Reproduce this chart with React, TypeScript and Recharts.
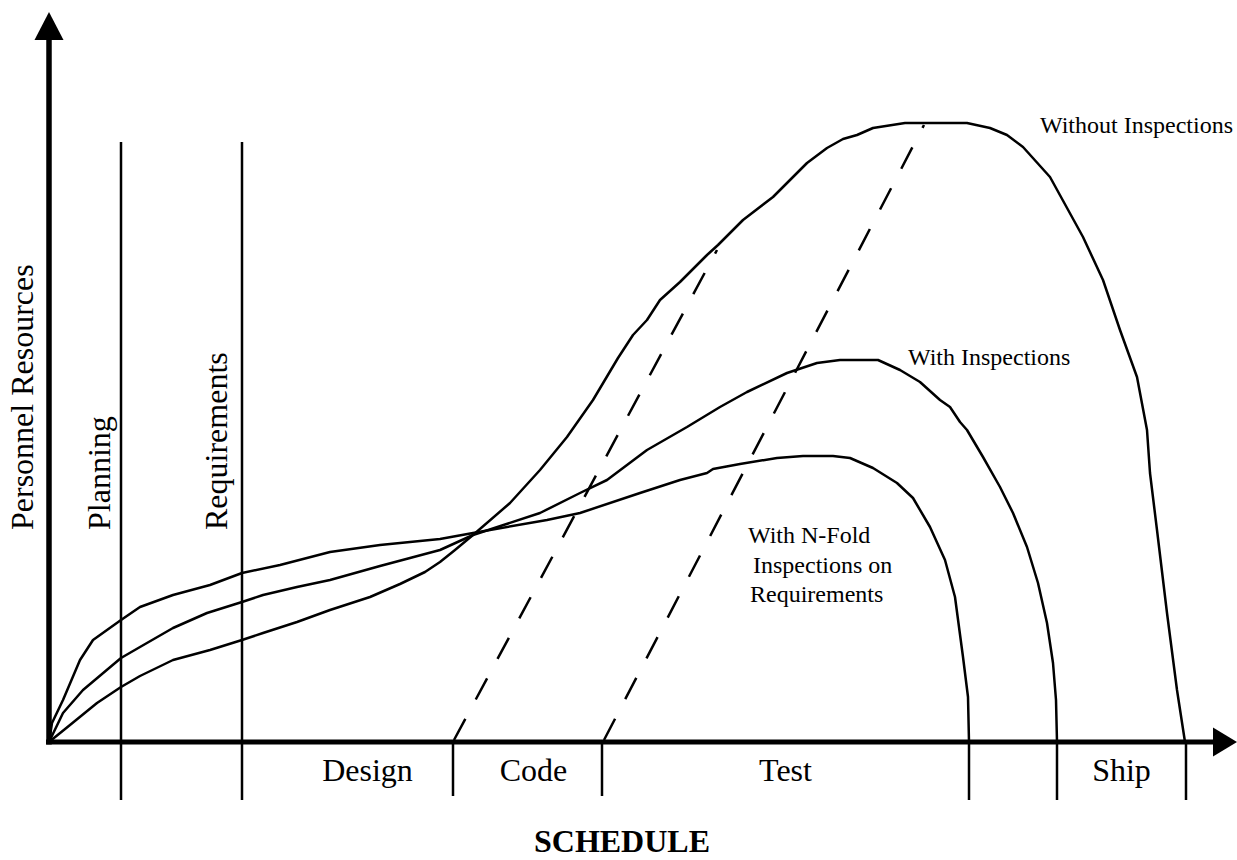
import React from "react";
import { Line, LineChart, ReferenceDot, ReferenceLine, XAxis, YAxis } from "recharts";

// Schedule runs along x from the origin, personnel up y. Points are [schedule, staff].
const WITHOUT_INSPECTIONS: [number, number][] = [
  [0, 0], [21, 17], [48, 39], [72, 55], [91, 66], [124, 82], [161, 92], [193, 102],
  [214, 109], [248, 120], [281, 132], [321, 145], [351, 158], [376, 170], [391, 180],
  [406, 192], [424, 207], [461, 239], [491, 272], [518, 305], [544, 342], [569, 384],
  [584, 407], [598, 422], [611, 442], [631, 460], [658, 487], [669, 497], [694, 522],
  [724, 545], [741, 562], [758, 579], [778, 594], [794, 603], [808, 607], [824, 614],
  [856, 619], [918, 619], [941, 614], [958, 607], [974, 595], [1001, 565], [1034, 505],
  [1054, 462], [1071, 412], [1088, 365], [1098, 312], [1101, 269], [1108, 212],
  [1118, 129], [1128, 52], [1136, 0],
];

const WITH_INSPECTIONS: [number, number][] = [
  [0, 0], [14, 29], [34, 52], [72, 84], [91, 95], [124, 114], [158, 129], [193, 140],
  [214, 147], [248, 155], [281, 162], [331, 176], [361, 184], [391, 192], [424, 207],
  [491, 229], [531, 249], [558, 262], [598, 292], [638, 315], [671, 335], [698, 350],
  [738, 369], [768, 379], [791, 382], [829, 382], [851, 372], [871, 360], [891, 342],
  [901, 335], [911, 320], [918, 312], [934, 285], [951, 255], [964, 229], [978, 195],
  [989, 159], [998, 119], [1004, 79], [1007, 42], [1008, 0],
];

const WITH_NFOLD: [number, number][] = [
  [0, 0], [3, 19], [14, 42], [31, 82], [44, 102], [72, 122], [91, 135], [124, 147],
  [161, 157], [193, 169], [231, 177], [281, 190], [331, 197], [371, 201], [391, 203],
  [424, 209], [498, 222], [531, 229], [591, 249], [631, 262], [658, 269], [664, 273],
  [691, 278], [728, 284], [754, 286], [784, 286], [801, 284], [824, 274], [848, 259],
  [864, 244], [881, 215], [896, 182], [906, 145], [914, 85], [919, 45], [920, 0],
];

// dashed guides from the end of design / code up to the curves
const GUIDE_DESIGN: [number, number][] = [[405, 2], [668, 492]];
const GUIDE_CODE: [number, number][] = [[555, 2], [875, 617]];

const PHASES = ["Planning", "Requirements", "Design", "Code", "Test", "", "Ship"];
const PHASE_ENDS = [72, 193, 404, 553, 920, 1008, 1137];

const X_MAX = 1188;
const Y_MAX = 730;
const FONT = '"Liberation Serif", "Times New Roman", serif';
const INK = "#000";

const pts = (pairs: [number, number][]) => pairs.map(([x, y]) => ({ x, y }));

type TextOpts = { size?: number; anchor?: "start" | "middle" | "end"; vertical?: boolean; bold?: boolean };

function textShape(text: string, { size = 24, anchor = "start", vertical = false, bold = false }: TextOpts) {
  return (p: any) => (
    <text
      x={p.cx}
      y={p.cy}
      transform={vertical ? `rotate(-90 ${p.cx} ${p.cy})` : undefined}
      textAnchor={anchor}
      fontFamily={FONT}
      fontSize={size}
      fontWeight={bold ? 700 : 400}
      fill={INK}
    >
      {text}
    </text>
  );
}

function arrowShape(dir: "right" | "up") {
  return (p: any) => {
    const { cx, cy } = p;
    const d =
      dir === "right"
        ? `M${cx},${cy} L${cx - 24},${cy - 14.5} L${cx - 24},${cy + 14.5} Z`
        : `M${cx},${cy} L${cx - 14.5},${cy + 28} L${cx + 14.5},${cy + 28} Z`;
    return <path d={d} fill={INK} />;
  };
}

const CURVE = { type: "linear" as const, stroke: INK, strokeWidth: 2.5, dot: false, isAnimationActive: false, strokeLinejoin: "round" as const };

// extra shift for the bottom phase names, which are not quite centred in the original
const LABEL_NUDGE: Record<string, number> = { Design: 20, Code: 6 };

export default function App() {
  const starts = [0, ...PHASE_ENDS];
  return (
    <div style={{ position: "absolute", left: 0, top: 0, background: "#fff" }}>
      <LineChart width={1237} height={860} margin={{ top: 12, right: 0, bottom: 118, left: 49 }}>
        <XAxis type="number" dataKey="x" domain={[0, X_MAX]} hide height={0} />
        <YAxis type="number" dataKey="y" domain={[0, Y_MAX]} hide width={0} />

        {/* phase boundaries */}
        {PHASE_ENDS.map((end, i) => (
          <ReferenceLine
            key={`b${i}`}
            segment={[{ x: end, y: i < 2 ? 600 : 0 }, { x: end, y: i < 2 ? -58 : i < 4 ? -54 : -58 }]}
            stroke={INK}
            strokeWidth={2.5}
            ifOverflow="visible"
          />
        ))}

        {/* axes */}
        <ReferenceLine segment={[{ x: -3, y: 0 }, { x: 1168, y: 0 }]} stroke={INK} strokeWidth={5} ifOverflow="visible" />
        <ReferenceLine segment={[{ x: 0, y: -2.5 }, { x: 0, y: 704 }]} stroke={INK} strokeWidth={5.5} ifOverflow="visible" />
        <ReferenceDot x={X_MAX} y={0} r={0} ifOverflow="visible" shape={arrowShape("right")} />
        <ReferenceDot x={0} y={Y_MAX} r={0} ifOverflow="visible" shape={arrowShape("up")} />

        <Line data={pts(WITHOUT_INSPECTIONS)} dataKey="y" {...CURVE} />
        <Line data={pts(WITH_INSPECTIONS)} dataKey="y" {...CURVE} />
        <Line data={pts(WITH_NFOLD)} dataKey="y" {...CURVE} />
        <Line data={pts(GUIDE_DESIGN)} dataKey="y" {...CURVE} strokeDasharray="24 22" />
        <Line data={pts(GUIDE_CODE)} dataKey="y" {...CURVE} strokeDasharray="24 22" />

        {/* curve names */}
        <ReferenceDot x={991} y={609} r={0} ifOverflow="visible" shape={textShape("Without Inspections", {})} />
        <ReferenceDot x={859} y={377} r={0} ifOverflow="visible" shape={textShape("With Inspections", {})} />
        <ReferenceDot x={699} y={199} r={0} ifOverflow="visible" shape={textShape("With N-Fold", {})} />
        <ReferenceDot x={704} y={169} r={0} ifOverflow="visible" shape={textShape("Inspections on", {})} />
        <ReferenceDot x={701} y={140} r={0} ifOverflow="visible" shape={textShape("Requirements", {})} />

        {/* vertical phase names and axis title */}
        <ReferenceDot x={-16} y={212} r={0} ifOverflow="visible" shape={textShape("Personnel Resources", { size: 32, vertical: true })} />
        <ReferenceDot x={61} y={212} r={0} ifOverflow="visible" shape={textShape(PHASES[0], { size: 32, vertical: true })} />
        <ReferenceDot x={178} y={212} r={0} ifOverflow="visible" shape={textShape(PHASES[1], { size: 32, vertical: true })} />

        {/* phase names under the axis */}
        {PHASES.map((name, i) =>
          i < 2 || !name ? null : (
            <ReferenceDot
              key={name}
              x={(starts[i] + PHASE_ENDS[i]) / 2 + (LABEL_NUDGE[name] ?? 0)}
              y={-39}
              r={0}
              ifOverflow="visible"
              shape={textShape(name, { size: 32, anchor: "middle" })}
            />
          ),
        )}
        <ReferenceDot x={573} y={-110} r={0} ifOverflow="visible" shape={textShape("SCHEDULE", { size: 32, anchor: "middle", bold: true })} />
      </LineChart>
    </div>
  );
}
